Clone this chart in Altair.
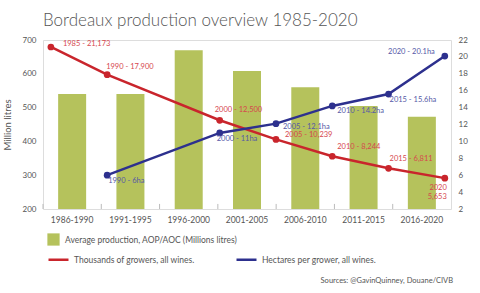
import altair as alt
import pandas as pd

# ---- data ----
periods = ["1986-1990", "1991-1995", "1996-2000", "2001-2005", "2006-2010", "2011-2015", "2016-2020"]
production = [540, 540, 670, 608, 560, 505, 473]  # million litres

grower_years = [1985, 1990, 2000, 2005, 2010, 2015, 2020]
growers = [21173, 17900, 12500, 10239, 8244, 6811, 5653]

ha_years = [1990, 2000, 2005, 2010, 2015, 2020]
hectares = [6, 11, 12.1, 14.2, 15.6, 20.1]

left_ticks = [200, 300, 400, 500, 600, 700]
right_ticks = [2, 4, 6, 8, 10, 12, 14, 16, 18, 20, 22]

BAR_LBL = "Average production, AOP/AOC (Millions litres)"
RED_LBL = "Thousands of growers, all wines."
BLUE_LBL = "Hectares per grower, all wines."
SOURCE = "Sources: @GavinQuinney, Douane/CIVB"
TITLE = "Bordeaux production overview 1985-2020"

GREEN = "#b5c25c"
RED = "#c9252c"
BLUE = "#2d308e"
RED_TXT = "#d6474e"
BLUE_TXT = "#5558a6"
GREY = "#555555"
FONT = "Lato"

bars_df = pd.DataFrame({"period": periods, "prod": production, "series": BAR_LBL})

rows = []
for y, g in zip(grower_years, growers):
    rows.append({"series": RED_LBL, "year": y, "v": g / 1000.0,
                 "label": f"{y} - {g:,}"})
for y, h in zip(ha_years, hectares):
    rows.append({"series": BLUE_LBL, "year": y, "v": h,
                 "label": f"{y} - {h:g}ha"})
lines_df = pd.DataFrame(rows)
# the last red label is split on two lines
lines_df.loc[(lines_df.series == RED_LBL) & (lines_df.year == 2020), "label"] = "2020\n5,653"

# ---- left layer: bars ----
x_band = alt.X("period:N", sort=periods, title=None,
               scale=alt.Scale(paddingInner=0, paddingOuter=0),
               axis=alt.Axis(labelAngle=0, labelFontSize=8.5, labelColor=GREY, labelFont=FONT,
                             labelPadding=6, domain=False, ticks=False))
left_scale = alt.Scale(domain=[200, 700], clamp=True, nice=False)
left_axis = alt.Axis(values=left_ticks, domain=False, ticks=False, grid=False,
                     labelOverlap=False,
                     labelFontSize=8, labelColor=GREY, labelFont=FONT, labelPadding=7,
                     titleFontSize=9.5, titleFontWeight="normal", titleColor=GREY,
                     titleFont=FONT, titlePadding=10)
y_left = alt.Y("prod:Q", title="Million litres", scale=left_scale, axis=left_axis)

bars = alt.Chart(bars_df).mark_bar(width=28).encode(
    x=x_band,
    y=y_left,
    fill=alt.Fill("series:N", scale=alt.Scale(domain=[BAR_LBL], range=[GREEN]),
                  legend=alt.Legend(title=None, orient="none", legendX=4, legendY=193,
                                    symbolType="square", symbolSize=150, symbolStrokeWidth=0,
                                    labelFontSize=8.5, labelColor=GREY, labelFont=FONT,
                                    labelOffset=5, labelLimit=400)),
)

ticks = alt.Chart(bars_df).mark_rule(color="#bbbbbb", strokeWidth=1).encode(
    x=alt.X("period:N", sort=periods, bandPosition=0),
    y=alt.YDatum(200, title="Million litres", scale=left_scale, axis=left_axis),
    y2=alt.datum(215),
)

source = alt.Chart(pd.DataFrame({"t": [SOURCE]})).mark_text(
    align="right", baseline="middle", fontSize=7.5, color=GREY, font=FONT
).encode(x=alt.value(410), y=alt.value(241), text="t:N")

left = alt.layer(bars, ticks, source)

# ---- right layer: lines ----
x_year = alt.X("year:Q", scale=alt.Scale(domain=[1984.3, 2020.55], nice=False, zero=False), axis=None)
y_right = alt.Y("v:Q", title=None,
                scale=alt.Scale(domain=[2, 22], nice=False, zero=False),
                axis=alt.Axis(orient="right", values=right_ticks, domain=False, ticks=False,
                              grid=False, labelOverlap=False, labelFontSize=8, labelColor=GREY,
                              labelFont=FONT, labelPadding=7))

lines = alt.Chart(lines_df).mark_line(strokeWidth=2.5).encode(
    x=x_year, y=y_right,
    stroke=alt.Stroke("series:N", scale=alt.Scale(domain=[RED_LBL, BLUE_LBL], range=[RED, BLUE]),
                      legend=alt.Legend(title=None, orient="none", legendX=4, legendY=208,
                                        direction="horizontal", symbolType="stroke",
                                        symbolSize=400, symbolStrokeWidth=2.5,
                                        labelFontSize=8.5, labelColor=GREY, labelFont=FONT,
                                        columnPadding=36, labelOffset=4, labelLimit=300)),
    detail="series:N",
)
points = alt.Chart(lines_df).mark_circle(size=45, opacity=1).encode(
    x=x_year, y=y_right,
    color=alt.Color("series:N", scale=alt.Scale(domain=[RED_LBL, BLUE_LBL], range=[RED, BLUE]),
                    legend=None),
)

# label offsets (pixels) for each point label
label_style = {
    (RED_LBL, 1985): ("left", 12, -3),
    (RED_LBL, 1990): ("left", -1, -8),
    (RED_LBL, 2000): ("left", -5, -10),
    (RED_LBL, 2005): ("left", 9, -4),
    (RED_LBL, 2010): ("left", 5, -9),
    (RED_LBL, 2015): ("left", 1, -9),
    (RED_LBL, 2020): ("right", 2, 6),
    (BLUE_LBL, 1990): ("left", 1, 6),
    (BLUE_LBL, 2000): ("left", -3, 6),
    (BLUE_LBL, 2005): ("left", 7, 3),
    (BLUE_LBL, 2010): ("left", 5, 5),
    (BLUE_LBL, 2015): ("left", 1, 6),
    (BLUE_LBL, 2020): ("right", -10, -4),
}
texts = []
for (ser, yr), (al, dx, dy) in label_style.items():
    col = RED_TXT if ser == RED_LBL else BLUE_TXT
    base = "top" if (ser == RED_LBL and yr == 2020) else "middle"
    t = alt.Chart(lines_df).transform_filter(
        (alt.datum.series == ser) & (alt.datum.year == yr)
    ).mark_text(align=al, baseline=base, dx=dx, dy=dy, fontSize=7.5, color=col,
                font=FONT, lineBreak="\n", lineHeight=9).encode(
        x=x_year, y=y_right, text="label:N")
    texts.append(t)

right = alt.layer(lines, points, *texts)

chart = alt.layer(left, right).resolve_scale(
    x="independent", y="independent"
).properties(
    width=408, height=169,
    padding={"left": 43, "top": 40, "right": 29, "bottom": 84},
    autosize=alt.AutoSizeParams(type="none"),
    title=alt.TitleParams(TITLE, anchor="start", frame="group", fontSize=17, font=FONT,
                          fontWeight=300, color=GREY, baseline="alphabetic", offset=0, dy=7),
).configure_view(stroke="#cccccc", strokeWidth=1).configure(background="white")

chart.save("out.html", embed_options={"renderer": "svg", "actions": False})
